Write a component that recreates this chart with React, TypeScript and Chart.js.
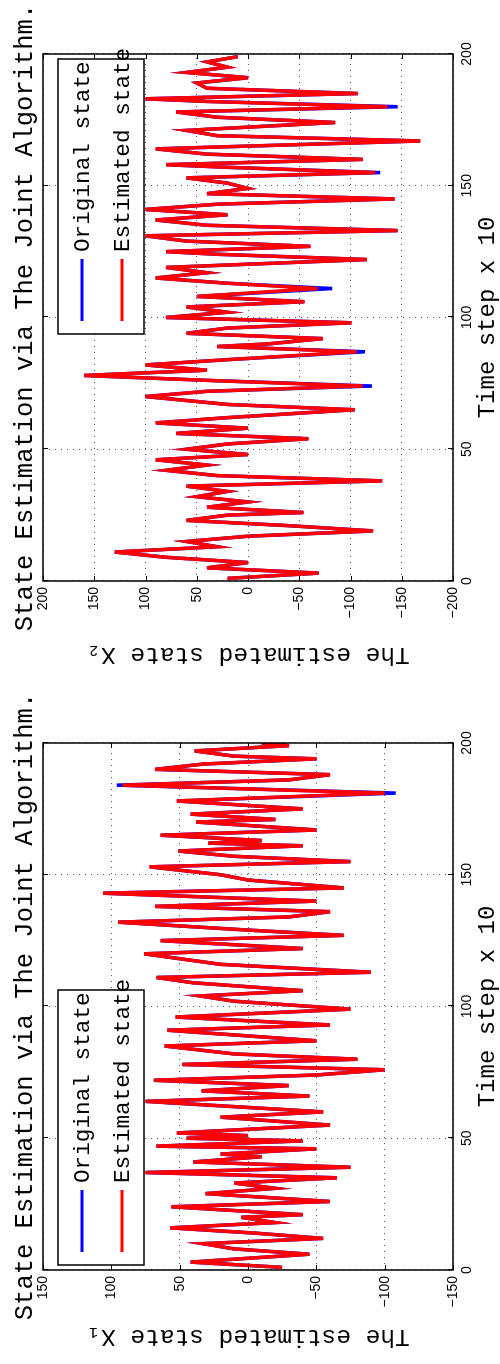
import React, { useEffect, useRef } from "react";
import { Chart, registerables } from "chart.js";

Chart.register(...registerables);

// ---------- data ----------
const TITLE = "State Estimation via The Joint Algorithm.";
const X_TITLE = "Time step x 10";
const LEGEND_LABELS = ["Original state", "Estimated state"];
const TIME_TICKS = [0, 50, 100, 150, 200];
const X1_TICKS = [-150, -100, -50, 0, 50, 100, 150];
const X2_TICKS = [-200, -150, -100, -50, 0, 50, 100, 150, 200];

// state X1 (vertices of the trace)
const X1_TIME = [1, 3, 6, 8, 10, 12, 14, 16, 18, 20, 21, 24, 26, 29, 31, 33, 35, 37, 39, 41, 43, 44, 46, 47, 49, 50, 51, 52, 55, 58, 60, 64, 66, 68, 70, 72, 74, 76, 78, 80, 82, 85, 87, 91, 93, 96, 99, 102, 104, 106, 109, 111, 113, 116, 120, 122, 125, 127, 129, 132, 134, 136, 138, 140, 143, 145, 148, 150, 153, 155, 157, 159, 161, 162, 163, 165, 167, 170, 171, 173, 175, 178, 181, 184, 186, 188, 190, 192, 194, 195, 197, 199, 200];
const X1_ORIG = [-25, 42, -45, 10, 33, -55, -5, 57, -20, 5, -40, 56, -60, 31, -20, 10, -65, 75, -75, 40, -10, 20, -50, 67, -40, 45, 0, 52, -60, 20, -55, 75, -45, 34, -30, 69, -50, -100, 48, -80, 10, 61, -50, 59, -60, 53, -75, 10, 35, -40, 40, 67, -90, 20, 76, -40, 64, -70, 0, 95, -30, -60, 68, -50, 106, -70, 0, 20, 72, -75, 10, 51, -40, 29, -10, 64, -50, 38, -20, 42, -40, 52, -108, 96, -30, -60, 68, 33, -50, 10, 39, -30, -10];
const X1_EST = [-25, 42, -45, 10, 33, -55, -5, 57, -20, 5, -40, 56, -60, 31, -20, 10, -65, 75, -75, 40, -10, 20, -50, 67, -40, 45, 0, 52, -60, 20, -55, 75, -45, 34, -30, 69, -50, -100, 48, -80, 10, 61, -50, 59, -60, 53, -75, 10, 35, -40, 40, 67, -90, 20, 76, -40, 64, -70, 0, 95, -30, -60, 68, -50, 106, -70, 0, 20, 72, -75, 10, 51, -40, 29, -10, 64, -50, 38, -20, 42, -40, 52, -100, 92, -30, -60, 68, 33, -50, 10, 39, -30, -10];

// state X2 (vertices of the trace)
const X2_TIME = [1, 3, 5, 7, 9, 11, 13, 15, 17, 19, 21, 23, 25, 26, 28, 30, 32, 34, 36, 38, 40, 42, 44, 46, 48, 50, 52, 54, 56, 58, 60, 62, 65, 67, 70, 72, 74, 76, 78, 80, 82, 84, 87, 89, 90, 92, 94, 96, 98, 100, 102, 104, 106, 108, 111, 113, 115, 117, 119, 122, 124, 125, 127, 129, 131, 133, 135, 137, 139, 141, 143, 145, 147, 149, 151, 153, 155, 157, 158, 160, 162, 164, 167, 169, 171, 174, 176, 178, 180, 182, 183, 185, 187, 189, 191, 193, 195, 197, 199];
const X2_ORIG = [20, -69, 40, 0, 80, 130, 30, 60, 0, -122, -40, 60, 20, -54, 40, 0, 50, 20, 60, -131, 30, 80, 40, 90, 0, 60, 20, -59, 70, 0, 90, 20, -104, 20, 100, 40, -121, 30, 160, 40, 100, 20, -114, 30, -20, -73, 60, 20, -101, 80, 20, 60, -55, 50, -82, 20, 90, 40, 80, -116, 30, 80, -61, 60, 100, -146, 40, 90, 20, 100, 30, -143, 40, 0, 20, 60, -129, 20, 80, -112, 40, 90, -168, 30, 60, -85, 30, 70, -146, 40, 100, -107, 40, 50, 0, 60, 20, 40, 10];
const X2_EST = [20, -69, 40, 0, 80, 130, 30, 60, 0, -122, -40, 60, 20, -54, 40, 0, 50, 20, 60, -131, 30, 80, 40, 90, 0, 60, 20, -59, 70, 0, 90, 20, -104, 20, 100, 40, -112, 30, 160, 40, 100, 20, -106, 30, -20, -73, 60, 20, -101, 80, 20, 60, -55, 50, -68, 20, 90, 40, 80, -116, 30, 80, -61, 60, 100, -146, 40, 90, 20, 100, 30, -143, 40, 0, 20, 60, -124, 20, 80, -112, 40, 90, -168, 30, 60, -85, 30, 70, -136, 40, 100, -107, 40, 50, 0, 60, 20, 40, 10];

// ---------- drawing ----------
const W = 682;
const H = 500;
const MONO = '"Liberation Mono", "DejaVu Sans Mono", monospace';
const SANS = '"Liberation Sans", Arial, sans-serif';

type PanelSpec = {
  time: number[];
  orig: number[];
  est: number[];
  yTicks: number[];
  yLabel: string;
  areaLeft: number;
  areaRight: number;
  legendCorner: "nw" | "ne";
};

const decoPlugin = {
  id: "matlabDeco",
  afterDraw(chart: any, _args: any, opts: any) {
    const { ctx, chartArea } = chart;
    const { left, right, top, bottom } = chartArea;
    const xs = chart.scales.x;
    const ys = chart.scales.y;
    ctx.save();
    // inward tick marks
    ctx.strokeStyle = "#000";
    ctx.lineWidth = 1;
    ctx.beginPath();
    for (const t of xs.ticks) {
      const p = Math.round(xs.getPixelForValue(t.value)) + 0.5;
      ctx.moveTo(p, bottom);
      ctx.lineTo(p, bottom - 5);
      ctx.moveTo(p, top);
      ctx.lineTo(p, top + 5);
    }
    for (const t of ys.ticks) {
      const p = Math.round(ys.getPixelForValue(t.value)) + 0.5;
      ctx.moveTo(left, p);
      ctx.lineTo(left + 5, p);
      ctx.moveTo(right, p);
      ctx.lineTo(right - 5, p);
    }
    ctx.stroke();
    // frame
    ctx.lineWidth = 1.5;
    ctx.strokeRect(left, top, right - left, bottom - top);

    // title
    ctx.fillStyle = "#000";
    ctx.font = `25.5px ${MONO}`;
    ctx.textAlign = "center";
    ctx.textBaseline = "alphabetic";
    ctx.fillText(TITLE, (left + right) / 2, 32);

    // legend box
    const bw = 275;
    const bh = 86;
    const bx = opts.corner === "nw" ? left + 5 : right - 5 - bw;
    const by = top + 15;
    ctx.fillStyle = "#fff";
    ctx.fillRect(bx, by, bw, bh);
    ctx.lineWidth = 1.5;
    ctx.strokeStyle = "#000";
    ctx.strokeRect(bx, by, bw, bh);
    const colors = ["#0000ff", "#ff0000"];
    const rows = [by + 24, by + 64];
    ctx.font = `22.7px ${MONO}`;
    ctx.textAlign = "left";
    ctx.textBaseline = "middle";
    LEGEND_LABELS.forEach((lab, i) => {
      ctx.strokeStyle = colors[i];
      ctx.lineWidth = 3;
      ctx.beginPath();
      ctx.moveTo(bx + 13, rows[i]);
      ctx.lineTo(bx + 75, rows[i]);
      ctx.stroke();
      ctx.fillStyle = "#000";
      ctx.fillText(lab, bx + 82, rows[i] + 1);
    });
    ctx.restore();
  },
};

function makeConfig(p: PanelSpec): any {
  const pts = (vals: number[]) => p.time.map((t, i) => ({ x: t, y: vals[i] }));
  const yMin = p.yTicks[0];
  const yMax = p.yTicks[p.yTicks.length - 1];
  return {
    type: "line",
    data: {
      datasets: [
        {
          label: LEGEND_LABELS[0],
          data: pts(p.orig),
          borderColor: "#0000ff",
          backgroundColor: "#0000ff",
          borderWidth: 3.5,
          pointRadius: 0,
          tension: 0,
          order: 2,
        },
        {
          label: LEGEND_LABELS[1],
          data: pts(p.est),
          borderColor: "#ff0000",
          backgroundColor: "#ff0000",
          borderWidth: 3.5,
          pointRadius: 0,
          tension: 0,
          order: 1,
        },
      ],
    },
    options: {
      animation: false,
      responsive: false,
      devicePixelRatio: 1,
      events: [],
      layout: { padding: { top: 43, left: 0, right: W - p.areaRight, bottom: 0 } },
      plugins: {
        legend: { display: false },
        title: { display: false },
        tooltip: { enabled: false },
        matlabDeco: { corner: p.legendCorner },
      },
      scales: {
        x: {
          type: "linear",
          min: 0,
          max: 200,
          afterBuildTicks: (s: any) => {
            s.ticks = TIME_TICKS.map((v) => ({ value: v }));
          },
          afterFit: (s: any) => {
            s.height = 47;
          },
          ticks: {
            font: { family: SANS, size: 14 },
            color: "#000",
            padding: 6,
            maxRotation: 0,
            callback: (v: number) => String(v),
          },
          grid: { display: true, color: "#555", lineWidth: 1, drawTicks: false },
          border: { display: false, dash: [1, 5] },
          title: {
            display: true,
            text: X_TITLE,
            color: "#000",
            font: { family: MONO, size: 24, lineHeight: 1 },
            padding: { top: 0, bottom: 0 },
          },
        },
        y: {
          type: "linear",
          min: yMin,
          max: yMax,
          afterBuildTicks: (s: any) => {
            s.ticks = p.yTicks.map((v) => ({ value: v }));
          },
          afterFit: (s: any) => {
            s.width = p.areaLeft;
          },
          ticks: {
            font: { family: SANS, size: 14 },
            color: "#000",
            padding: 6,
            callback: (v: number) => (v < 0 ? "\u2212" + Math.abs(v) : String(v)),
          },
          grid: { display: true, color: "#555", lineWidth: 1, drawTicks: false },
          border: { display: false, dash: [1, 5] },
          title: {
            display: true,
            text: p.yLabel,
            color: "#000",
            font: { family: MONO, size: 24.5, lineHeight: 1 },
            padding: { top: 15, bottom: 0 },
          },
        },
      },
    },
    plugins: [decoPlugin],
  };
}

function Panel({ spec, y0 }: { spec: PanelSpec; y0: number }) {
  const ref = useRef<HTMLCanvasElement | null>(null);
  useEffect(() => {
    if (!ref.current) return;
    const chart = new Chart(ref.current, makeConfig(spec));
    return () => chart.destroy();
  }, [spec]);
  return (
    <div
      style={{
        position: "absolute",
        left: 0,
        top: 0,
        width: W,
        height: H,
        transformOrigin: "0 0",
        transform: `translate(0px, ${y0 + W}px) rotate(-90deg)`,
      }}
    >
      <canvas ref={ref} width={W} height={H} style={{ display: "block", width: W, height: H }} />
    </div>
  );
}

const X2_SPEC: PanelSpec = {
  time: X2_TIME,
  orig: X2_ORIG,
  est: X2_EST,
  yTicks: X2_TICKS,
  yLabel: "The estimated state X\u2082",
  areaLeft: 101,
  areaRight: 628,
  legendCorner: "ne",
};

const X1_SPEC: PanelSpec = {
  time: X1_TIME,
  orig: X1_ORIG,
  est: X1_EST,
  yTicks: X1_TICKS,
  yLabel: "The estimated state X\u2081",
  areaLeft: 94,
  areaRight: 621,
  legendCorner: "nw",
};

export default function App() {
  return (
    <div
      style={{
        position: "absolute",
        left: 0,
        top: 0,
        width: 500,
        height: 1364,
        overflow: "hidden",
        background: "#fff",
      }}
    >
      <Panel spec={X2_SPEC} y0={0} />
      <Panel spec={X1_SPEC} y0={W} />
    </div>
  );
}
